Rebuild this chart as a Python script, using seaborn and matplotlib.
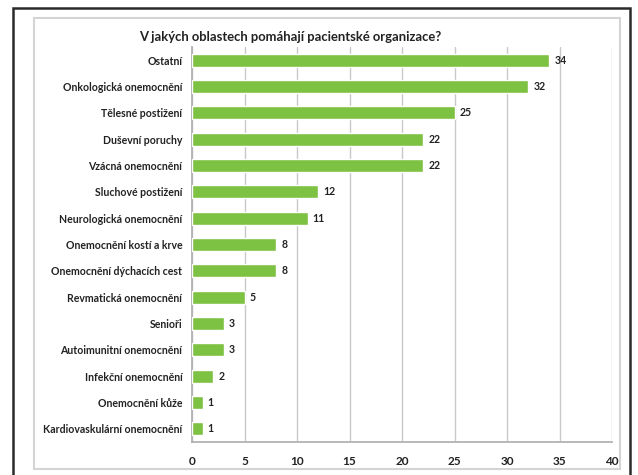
import matplotlib
matplotlib.use("Agg")
import matplotlib.pyplot as plt
import seaborn as sns
import pandas as pd
from matplotlib.patches import Rectangle
from matplotlib.ticker import NullLocator

categories = ["Ostatní", "Onkologická onemocnění", "Tělesné postižení", "Duševní poruchy",
              "Vzácná onemocnění", "Sluchové postižení", "Neurologická onemocnění",
              "Onemocnění kostí a krve", "Onemocnění dýchacích cest", "Revmatická onemocnění",
              "Senioři", "Autoimunitní onemocnění", "Infekční onemocnění", "Onemocnění kůže",
              "Kardiovaskulární onemocnění"]
values = [34, 32, 25, 22, 22, 12, 11, 8, 8, 5, 3, 3, 2, 1, 1]
xticks = [0, 5, 10, 15, 20, 25, 30, 35, 40]
title = "V jakých oblastech pomáhají pacientské organizace?"

sns.set_theme(style="white")
plt.rcParams['font.family'] = ['Lato', 'DejaVu Sans']

df = pd.DataFrame({"cat": categories, "val": values})

fig = plt.figure(figsize=(6.38, 4.75), dpi=100)
W, H = 638, 475
# outer dark frame and inner light frame
fig.patches.append(Rectangle((13 / W, -0.01), (630 - 13) / W, (475 - 8) / H + 0.01, transform=fig.transFigure,
                             fill=False, edgecolor="#2a2a2a", linewidth=1.8))
fig.patches.append(Rectangle((34 / W, 1 - 469 / H), (620 - 34) / W, (469 - 18) / H, transform=fig.transFigure,
                             fill=False, edgecolor="#d4d4d4", linewidth=1.5))

ax = fig.add_axes([192 / W, 1 - 442 / H, (612 - 192) / W, (442 - 47) / H])
sns.barplot(data=df, x="val", y="cat", color="#7dc242", width=0.5, ax=ax, saturation=1, zorder=3)

ax.set_xlim(0, 40)
ax.set_xticks(xticks)
ax.xaxis.set_minor_locator(NullLocator())
ax.set_xticklabels([str(t) for t in xticks], fontsize=8.5, fontweight="bold", color="#222222")
ax.set_ylim(len(categories) - 0.5, -0.5)
ax.set_yticks(range(len(categories)))
ax.set_yticklabels(categories, fontsize=7.6, fontweight="bold", color="#222222")
ax.set_xlabel("")
ax.set_ylabel("")
ax.grid(axis="x", color="#c8c8c8", linewidth=1, zorder=0)
ax.grid(axis="y", visible=False)
for s in ["top", "right"]:
    ax.spines[s].set_visible(False)
ax.spines["left"].set_color("#b0b0b0")
ax.spines["bottom"].set_color("#b0b0b0")
ax.tick_params(axis="y", which="major", length=0, pad=7)
ax.tick_params(axis="x", which="major", length=3, width=1, color="#b0b0b0", direction="out", pad=7)
# minor ticks between categories on the y axis
ax.set_yticks([i + 0.5 for i in range(-1, len(categories))], minor=True)
ax.tick_params(axis="y", which="minor", length=4, color="#b0b0b0", direction="out")

for i, v in enumerate(values):
    ax.text(v + 0.5, i, str(v), va="center", ha="left", fontsize=7.6, fontweight="bold", color="#222222")

fig.text(290 / W, 1 - 37 / H, title, ha="center", va="center", fontsize=9.4, fontweight="bold", color="#222222")

fig.savefig("out.png", dpi=100)
